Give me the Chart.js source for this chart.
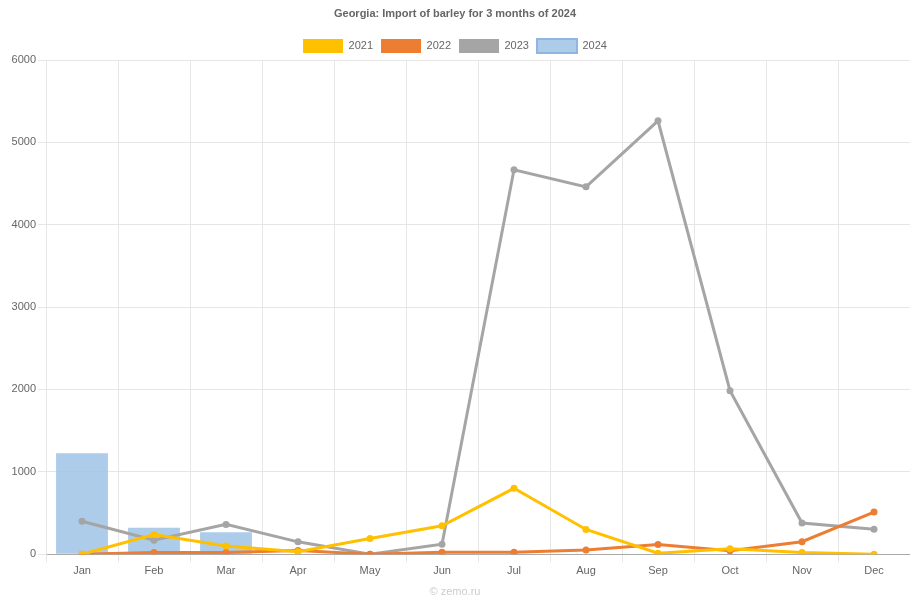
<!DOCTYPE html>
<html>
<head>
<meta charset="utf-8">
<script src="https://cdn.jsdelivr.net/npm/chart.js@4"></script>
<style>
    html, body { margin: 0; padding: 0; background: #fff; }
    #wrap { width: 910px; height: 601px; position: relative; }
</style>
</head>
<body>
<div id="wrap"><canvas id="chart"></canvas></div>
<script>
// Data
const months = ['Jan', 'Feb', 'Mar', 'Apr', 'May', 'Jun', 'Jul', 'Aug', 'Sep', 'Oct', 'Nov', 'Dec'];
const values2021 = [0, 240, 100, 30, 190, 345, 800, 300, 12, 65, 20, 0];
const values2022 = [0, 20, 20, 45, 0, 25, 25, 52, 118, 42, 152, 512];
const values2023 = [400, 170, 362, 150, 0, 121, 4668, 4460, 5262, 1985, 378, 302];
const values2024 = [1225, 320, 265];
const yTicks = [0, 1000, 2000, 3000, 4000, 5000, 6000];

const font = "'Liberation Sans', Arial, sans-serif";
const barColor = 'rgba(157, 195, 230, 0.85)';

function lineSet(label, data, color) {
    return {
        type: 'line',
        label: label,
        data: data,
        borderColor: color,
        backgroundColor: color,
        borderWidth: 3,
        pointRadius: 3.5,
        pointBorderWidth: 0,
        pointBackgroundColor: color,
        tension: 0,
        fill: false
    };
}

// shave a few pixels off the legend block so the plot starts a bit higher
const legendTrim = {
    id: 'legendTrim',
    beforeInit(chart) {
        const legend = chart.legend;
        if (!legend) return;
        const fit = legend.fit;
        legend.fit = function () {
            fit.call(this);
            this.height -= 3;
        };
    }
};

const ctx = document.getElementById('chart');

new Chart(ctx, {
    data: {
        labels: months,
        datasets: [
            lineSet('2021', values2021, '#ffc000'),
            lineSet('2022', values2022, '#ed7d31'),
            lineSet('2023', values2023, '#a5a5a5'),
            {
                type: 'bar',
                label: '2024',
                data: values2024,
                backgroundColor: barColor,
                borderColor: barColor,
                borderWidth: 0
            }
        ]
    },
    options: {
        responsive: true,
        maintainAspectRatio: false,
        animation: false,
        layout: { autoPadding: false, padding: 0 },
        plugins: {
            title: {
                display: true,
                text: 'Georgia: Import of barley for 3 months of 2024',
                color: '#666',
                font: { family: font, size: 11, weight: 'bold' },
                padding: { top: 7.4, bottom: 10.4 }
            },
            subtitle: {
                display: true,
                position: 'bottom',
                text: '© zemo.ru',
                color: '#ccc',
                font: { family: font, size: 11 },
                padding: { top: 6, bottom: 2.4 }
            },
            legend: {
                position: 'top',
                labels: {
                    color: '#666',
                    boxWidth: 40,
                    boxHeight: 14,
                    padding: 8,
                    font: { family: font, size: 11 },
                    generateLabels: function (chart) {
                        return chart.data.datasets.map((ds, i) => ({
                            text: ds.label,
                            fillStyle: i === 3 ? barColor : ds.borderColor,
                            strokeStyle: i === 3 ? '#8fb5e0' : ds.borderColor,
                            lineWidth: i === 3 ? 2 : 0,
                            fontColor: '#666',
                            datasetIndex: i,
                            hidden: false
                        }));
                    }
                }
            },
            tooltip: { enabled: false }
        },
        scales: {
            x: {
                offset: true,
                grid: {
                    color: '#e6e6e6',
                    offset: true,
                    tickLength: 8
                },
                border: { color: '#aaa' },
                ticks: {
                    color: '#666',
                    font: { family: font, size: 11 },
                    padding: 2
                }
            },
            y: {
                min: 0,
                max: 6000,
                afterBuildTicks: function (axis) {
                    axis.ticks = yTicks.map(v => ({ value: v }));
                },
                afterFit: function (axis) {
                    axis.width = 46;
                },
                grid: {
                    color: '#e6e6e6',
                    tickLength: 8
                },
                border: { color: '#e6e6e6' },
                ticks: {
                    color: '#666',
                    font: { family: font, size: 11 },
                    padding: 2,
                    callback: function (value) {
                        return String(value);
                    }
                }
            }
        }
    },
    plugins: [legendTrim]
});
</script>
</body>
</html>
